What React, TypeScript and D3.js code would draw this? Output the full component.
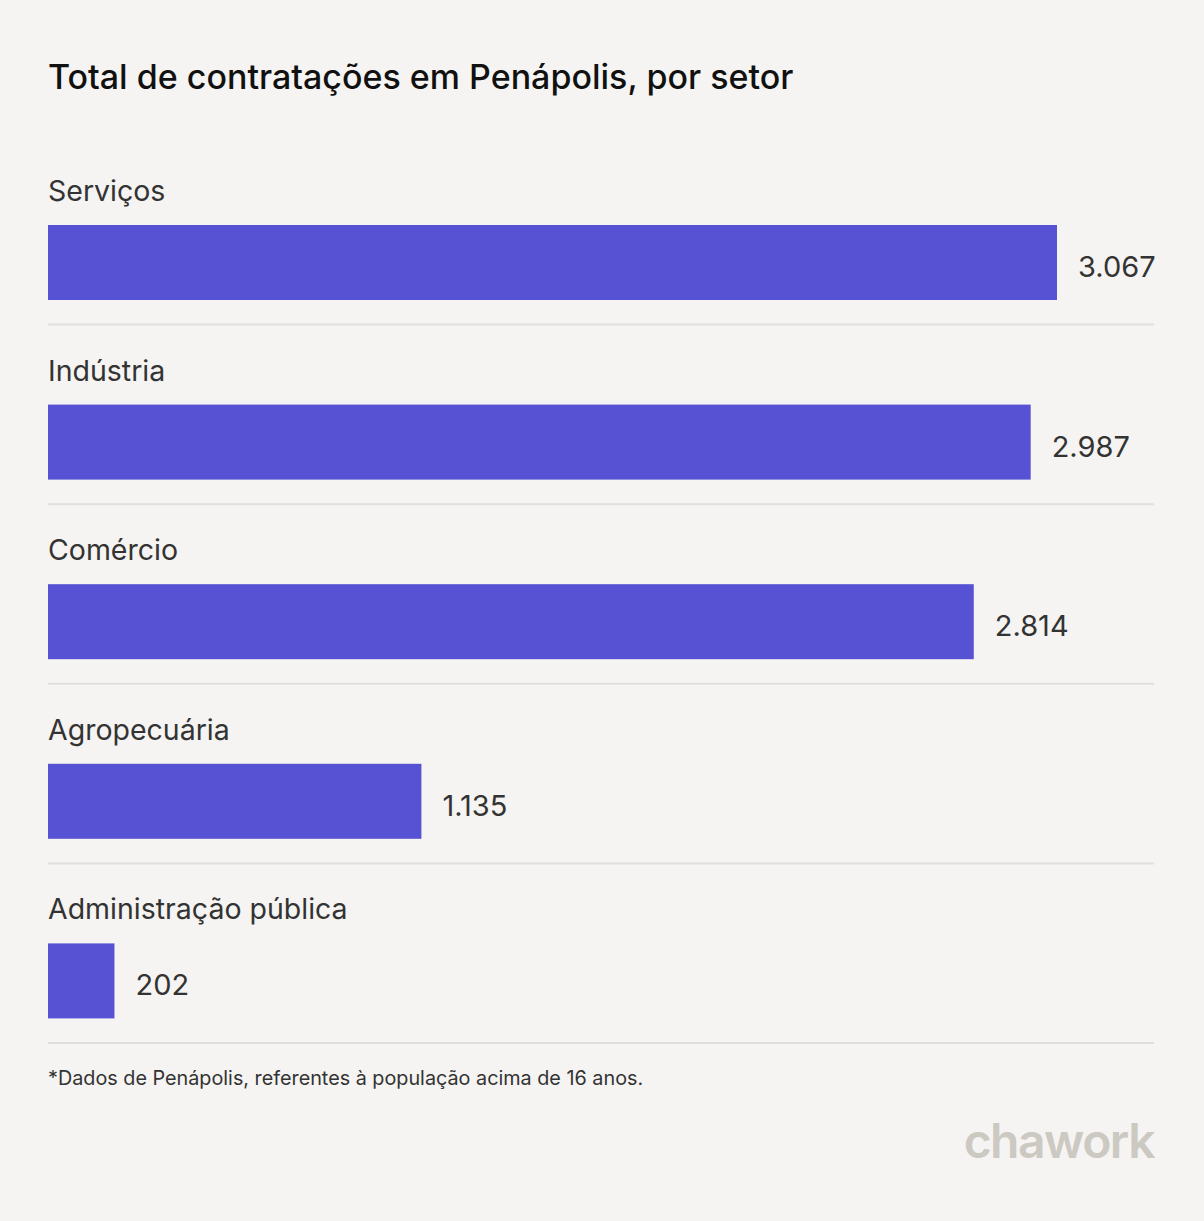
import React from "react";
import * as d3 from "d3";

const categories = ["Serviços", "Indústria", "Comércio", "Agropecuária", "Administração pública"];
const values = [3067, 2987, 2814, 1135, 202];
const valueLabels = ["3.067", "2.987", "2.814", "1.135", "202"];

const W = 1204;
const H = 1221;
const FONT = "Inter, 'Noto Sans', sans-serif";

export default function App() {
  const x = d3.scaleLinear().domain([0, d3.max(values) as number]).range([48, 1057]);
  const band = d3.scaleBand<string>().domain(categories).range([145, 1043]).paddingInner(0).paddingOuter(0);
  const rowH = band.bandwidth();

  return (
    <svg width={W} height={H} style={{ display: "block", position: "absolute", left: 0, top: 0 }} fontFamily={FONT}>
      <rect x={0} y={0} width={W} height={H} fill="#f5f4f2" />
      <text x={48} y={89} fontSize={34} fontWeight={500} fill="#111">
        Total de contratações em Penápolis, por setor
      </text>
      {categories.map((c, i) => {
        const y0 = band(c) as number;
        const barY = y0 + 80;
        return (
          <g key={c}>
            <text x={48} y={y0 + 56} fontSize={28.5} fill="#333">
              {c}
            </text>
            <rect x={x(0)} y={barY} width={x(values[i]) - x(0)} height={75} fill="#5751d4" />
            <text x={x(values[i]) + 21} y={barY + 52} fontSize={29} fill="#333">
              {valueLabels[i]}
            </text>
            <line x1={48} x2={1154} y1={y0 + rowH} y2={y0 + rowH} stroke="#e0dfdc" strokeWidth={2} />
          </g>
        );
      })}
      <text x={48} y={1085} fontSize={19.8} fill="#333">
        *Dados de Penápolis, referentes à população acima de 16 anos.
      </text>
      <text x={1154} y={1158} fontSize={48} fontWeight={600} fill="#ccc9c2" textAnchor="end" letterSpacing={-1.5}>
        chawork
      </text>
    </svg>
  );
}
